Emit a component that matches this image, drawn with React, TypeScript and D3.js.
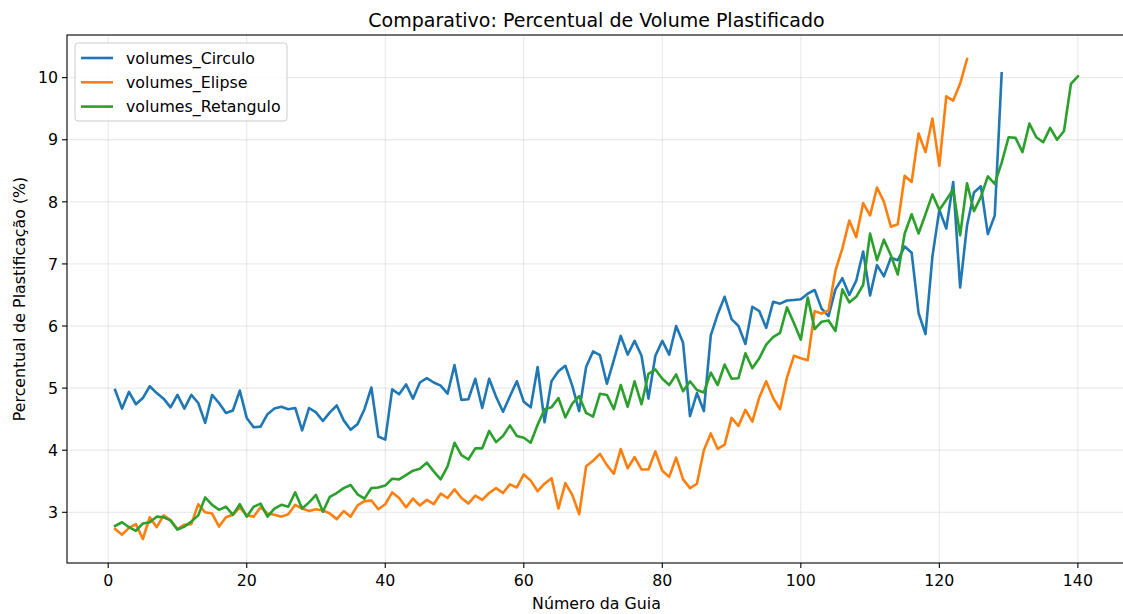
import React from "react";
import * as d3 from "d3";

// Percentual de volume plastificado por guia, para cada formato
const volumesCirculo: number[] = [
  4.97, 4.67, 4.94, 4.74, 4.84, 5.03, 4.92, 4.83, 4.69, 4.89,
  4.67, 4.89, 4.76, 4.44, 4.89, 4.76, 4.60, 4.64, 4.96, 4.52,
  4.37, 4.38, 4.58, 4.67, 4.70, 4.66, 4.68, 4.32, 4.68, 4.61,
  4.47, 4.61, 4.72, 4.48, 4.33, 4.42, 4.66, 5.01, 4.22, 4.17,
  4.98, 4.90, 5.06, 4.83, 5.09, 5.16, 5.09, 5.04, 4.91, 5.37,
  4.81, 4.82, 5.15, 4.68, 5.15, 4.86, 4.62, 4.87, 5.11, 4.78,
  4.69, 5.34, 4.45, 5.11, 5.27, 5.36, 5.04, 4.63, 5.34, 5.59,
  5.53, 5.07, 5.45, 5.84, 5.54, 5.76, 5.52, 4.83, 5.52, 5.76,
  5.54, 6.00, 5.73, 4.55, 4.92, 4.63, 5.85, 6.19, 6.47, 6.11,
  6.00, 5.71, 6.31, 6.24, 5.97, 6.39, 6.36, 6.41, 6.42, 6.43,
  6.52, 6.58, 6.28, 6.16, 6.59, 6.77, 6.50, 6.73, 7.20, 6.49,
  6.98, 6.80, 7.10, 7.06, 7.28, 7.18, 6.21, 5.87, 7.12, 7.87,
  7.57, 8.32, 6.62, 7.62, 8.15, 8.25, 7.48, 7.78, 10.07,
];

const volumesElipse: number[] = [
  2.73, 2.64, 2.75, 2.81, 2.57, 2.92, 2.76, 2.95, 2.87, 2.73,
  2.80, 2.81, 3.13, 3.00, 2.98, 2.77, 2.92, 2.96, 3.08, 2.95,
  2.93, 3.08, 2.98, 2.96, 2.93, 2.97, 3.12, 3.06, 3.02, 3.05,
  3.03, 2.98, 2.89, 3.02, 2.93, 3.11, 3.18, 3.19, 3.05, 3.13,
  3.32, 3.23, 3.08, 3.22, 3.11, 3.20, 3.13, 3.30, 3.23, 3.37,
  3.23, 3.14, 3.27, 3.20, 3.31, 3.39, 3.31, 3.45, 3.40, 3.61,
  3.51, 3.34, 3.46, 3.55, 3.06, 3.47, 3.28, 2.97, 3.74, 3.83,
  3.94, 3.76, 3.62, 4.02, 3.71, 3.89, 3.69, 3.69, 3.98, 3.67,
  3.57, 3.88, 3.53, 3.39, 3.46, 4.00, 4.27, 4.02, 4.09, 4.52,
  4.39, 4.65, 4.46, 4.85, 5.11, 4.84, 4.66, 5.17, 5.52, 5.48,
  5.45, 6.24, 6.20, 6.25, 6.89, 7.25, 7.70, 7.43, 7.98, 7.78,
  8.23, 8.00, 7.60, 7.64, 8.42, 8.32, 9.10, 8.80, 9.34, 8.58,
  9.70, 9.63, 9.90, 10.30,
];

const volumesRetangulo: number[] = [
  2.78, 2.84, 2.76, 2.70, 2.82, 2.84, 2.93, 2.92, 2.87, 2.72,
  2.77, 2.85, 2.95, 3.24, 3.12, 3.04, 3.09, 2.96, 3.13, 2.93,
  3.09, 3.14, 2.93, 3.06, 3.12, 3.09, 3.32, 3.06, 3.16, 3.28,
  3.01, 3.25, 3.31, 3.39, 3.44, 3.29, 3.22, 3.39, 3.40, 3.43,
  3.54, 3.53, 3.60, 3.67, 3.70, 3.80, 3.66, 3.53, 3.74, 4.12,
  3.92, 3.85, 4.03, 4.03, 4.31, 4.13, 4.23, 4.40, 4.23, 4.20,
  4.12, 4.41, 4.66, 4.69, 4.84, 4.53, 4.75, 4.87, 4.60, 4.54,
  4.91, 4.89, 4.66, 5.05, 4.70, 5.11, 4.74, 5.23, 5.30, 5.15,
  5.05, 5.22, 4.95, 5.11, 4.97, 4.93, 5.25, 5.05, 5.38, 5.15,
  5.16, 5.56, 5.32, 5.48, 5.70, 5.82, 5.89, 6.30, 6.05, 5.78,
  6.46, 5.95, 6.07, 6.09, 5.92, 6.59, 6.38, 6.47, 6.66, 7.49,
  7.06, 7.39, 7.14, 6.83, 7.49, 7.80, 7.49, 7.80, 8.12, 7.87,
  8.03, 8.20, 7.46, 8.30, 7.85, 8.08, 8.41, 8.29, 8.63, 9.04,
  9.03, 8.80, 9.26, 9.04, 8.96, 9.19, 9.00, 9.14, 9.90, 10.02,
];

const seriesNames = ["volumes_Circulo", "volumes_Elipse", "volumes_Retangulo"];
const seriesColors = ["#1f77b4", "#ff7f0e", "#2ca02c"];
const xTicks = [0, 20, 40, 60, 80, 100, 120, 140];
const yTicks = [3, 4, 5, 6, 7, 8, 9, 10];

const titleText = "Comparativo: Percentual de Volume Plastificado";
const xLabel = "Número da Guia";
const yLabel = "Percentual de Plastificação (%)";

const W = 1123;
const H = 614;
const plot = { left: 67, right: 1126, top: 35, bottom: 563 };
const FONT = "DejaVu Sans, Liberation Sans, sans-serif";
const LABEL_SIZE = 15.8;
const TITLE_SIZE = 19;
const LINE_W = 2.6;

export default function App() {
  const allSeries = [volumesCirculo, volumesElipse, volumesRetangulo];
  const maxLen = d3.max(allSeries, (s) => s.length) as number;
  const xPad = (maxLen - 1) * 0.05;
  const x = d3
    .scaleLinear()
    .domain([1 - xPad, maxLen + xPad])
    .range([plot.left, plot.right]);

  const allVals = allSeries.flat();
  const yMin = d3.min(allVals) as number;
  const yMax = d3.max(allVals) as number;
  const yPad = (yMax - yMin) * 0.05;
  const y = d3
    .scaleLinear()
    .domain([yMin - yPad, yMax + yPad])
    .range([plot.bottom, plot.top]);

  const line = d3
    .line<number>()
    .x((_, i) => x(i + 1))
    .y((d) => y(d));

  const cx = (plot.left + plot.right) / 2;
  const cy = (plot.top + plot.bottom) / 2;

  return (
    <svg
      width={W}
      height={H}
      style={{ position: "absolute", left: 0, top: 0, background: "#fff" }}
      fontFamily={FONT}
    >
      <rect x={0} y={0} width={W} height={H} fill="#fff" />
      <defs>
        <clipPath id="plot-clip">
          <rect
            x={plot.left}
            y={plot.top}
            width={plot.right - plot.left}
            height={plot.bottom - plot.top}
          />
        </clipPath>
      </defs>

      {/* grid */}
      <g stroke="#b0b0b0" strokeOpacity={0.3} strokeWidth={1}>
        {xTicks.map((t) => (
          <line key={"gx" + t} x1={x(t)} x2={x(t)} y1={plot.top} y2={plot.bottom} />
        ))}
        {yTicks.map((t) => (
          <line key={"gy" + t} x1={plot.left} x2={plot.right} y1={y(t)} y2={y(t)} />
        ))}
      </g>

      {/* series */}
      <g clipPath="url(#plot-clip)" fill="none" strokeWidth={LINE_W} strokeLinejoin="round" strokeLinecap="square">
        {allSeries.map((s, i) => (
          <path key={seriesNames[i]} d={line(s) as string} stroke={seriesColors[i]} />
        ))}
      </g>

      {/* spines */}
      <rect
        x={plot.left}
        y={plot.top}
        width={plot.right - plot.left}
        height={plot.bottom - plot.top}
        fill="none"
        stroke="#000"
        strokeWidth={1.1}
      />

      {/* x axis */}
      <g fontSize={LABEL_SIZE} fill="#000" textAnchor="middle">
        {xTicks.map((t) => (
          <g key={"xt" + t}>
            <line x1={x(t)} x2={x(t)} y1={plot.bottom} y2={plot.bottom + 5} stroke="#000" strokeWidth={1.1} />
            <text x={x(t)} y={plot.bottom + 23}>{t}</text>
          </g>
        ))}
      </g>

      {/* y axis */}
      <g fontSize={LABEL_SIZE} fill="#000" textAnchor="end">
        {yTicks.map((t) => (
          <g key={"yt" + t}>
            <line x1={plot.left - 5} x2={plot.left} y1={y(t)} y2={y(t)} stroke="#000" strokeWidth={1.1} />
            <text x={plot.left - 9} y={y(t)} dy="0.36em">{t}</text>
          </g>
        ))}
      </g>

      <text x={cx} y={27} textAnchor="middle" fontSize={TITLE_SIZE} fill="#000">
        {titleText}
      </text>
      <text x={cx} y={609} textAnchor="middle" fontSize={LABEL_SIZE} fill="#000">
        {xLabel}
      </text>
      <text
        transform={`translate(25, ${cy}) rotate(-90)`}
        textAnchor="middle"
        fontSize={LABEL_SIZE}
        fill="#000"
      >
        {yLabel}
      </text>

      {/* legend */}
      <g>
        <rect
          x={75}
          y={43}
          width={212}
          height={78}
          rx={3}
          fill="#fff"
          fillOpacity={0.8}
          stroke="#cccccc"
          strokeWidth={1}
        />
        {seriesNames.map((name, i) => {
          const ly = 58 + i * 24.3;
          return (
            <g key={"lg" + name}>
              <line x1={81} x2={113} y1={ly} y2={ly} stroke={seriesColors[i]} strokeWidth={LINE_W} />
              <text x={126} y={ly} dy="0.36em" fontSize={LABEL_SIZE} fill="#000">
                {name}
              </text>
            </g>
          );
        })}
      </g>
    </svg>
  );
}
